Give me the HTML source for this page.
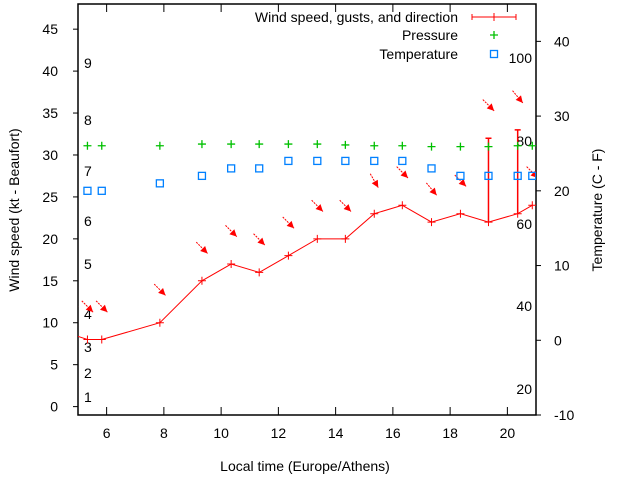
<!DOCTYPE html>
<html><head><meta charset="utf-8"><style>
body{margin:0;background:#fff}
svg{display:block;font-family:"Liberation Sans",sans-serif}
</style></head><body>
<svg id="chart" width="640" height="480" viewBox="0 0 640 480" xmlns="http://www.w3.org/2000/svg"></svg>
<script>
const times=[4.8,5.33,5.83,7.86,9.33,10.35,11.33,12.35,13.36,14.34,15.35,16.33,17.35,18.36,19.34,20.36,20.87];
const speeds=[8.6,8,8,10,15,17,16,18,20,20,23,24,22,23,22,23,24];
const gusts=[null,null,null,null,null,null,null,null,null,null,null,null,null,null,32,33,null];
const dirs=[315,315,315,315,315,315,315,315,315,315,330,315,320,315,315,320,315];
const pressure=[31.1,31.1,31.1,31.1,31.3,31.3,31.3,31.3,31.3,31.2,31.1,31.1,31.0,31.0,31.0,31.1,31.1];
const temps=[20,20,20,21,22,23,23,24,24,24,24,24,23,22,22,22,22];
const leftTicks=[0,5,10,15,20,25,30,35,40,45];
const rightTicks=[-10,0,10,20,30,40];
const xTicks=[6,8,10,12,14,16,18,20];
const beaufort=[["1",397],["2",373],["3",347],["4",314],["5",264],["6",221],["7",171],["8",120],["9",63]];
const fahr=[["20",389],["40",306],["60",224],["80",141],["100",58]];

const L=78,R=536,T=4,B=415;
const xS=t=>L+(t-5)/(21-5)*(R-L);
const yL=v=>B-(v+1)/(49)*(B-T);
const yR=v=>B-(v+10)/55*(B-T);
const svg=document.getElementById('chart');
const NS='http://www.w3.org/2000/svg';
function mk(tag,attrs,parent){const e=document.createElementNS(NS,tag);for(const k in attrs)e.setAttribute(k,attrs[k]);(parent||svg).appendChild(e);return e;}
function txt(s,x,y,anchor,extra){const e=mk('text',Object.assign({x:x,y:y,'font-size':14,fill:'#000','text-anchor':anchor||'middle'},extra||{}));e.textContent=s;return e;}

// defs clip
const defs=mk('defs',{});
const cp=mk('clipPath',{id:'clip'},defs);mk('rect',{x:L,y:T,width:R-L,height:B-T},cp);

// frame
const fr=mk('rect',{x:L,y:T,width:R-L,height:B-T,fill:'none',stroke:'#000','stroke-width':1.5});


leftTicks.forEach(v=>{const y=yL(v);
 mk('line',{x1:L-5,x2:L,y1:y,y2:y,stroke:'#000'});
 const t=txt(String(v),L-20,y+5,'end');
 
 });
rightTicks.forEach(v=>{const y=yR(v);
 mk('line',{x1:R,x2:R+5,y1:y,y2:y,stroke:'#000'});
 const t=txt(String(v),R+18,y+5,'start');
 
 });
xTicks.forEach(v=>{const x=xS(v);
 mk('line',{x1:x,x2:x,y1:B,y2:B-8,stroke:'#000'});
 mk('line',{x1:x,x2:x,y1:T,y2:T+8,stroke:'#000'});
 const t=txt(String(v),x,B+23,'middle');
 
 });
beaufort.forEach(([s,y])=>{const t=txt(s,84,y+5,'start');
 
 });
fahr.forEach(([s,y])=>{const t=txt(s,532,y+5,'end');
 
 });

let t1=txt('Wind speed (kt - Beaufort)',0,0,'middle',{transform:'translate(19,210) rotate(-90)'});

let t2=txt('Temperature (C - F)',0,0,'middle',{transform:'translate(602,210) rotate(-90)'});

let t3=txt('Local time (Europe/Athens)',305,471,'middle');


const g=mk('g',{'clip-path':'url(#clip)'});
// wind line
const pts=times.map((t,i)=>xS(t)+','+yL(speeds[i])).join(' ');
const pl=mk('polyline',{points:pts,fill:'none',stroke:'#f00','stroke-width':1},g);

times.forEach((t,i)=>{const x=xS(t),y=yL(speeds[i]);
 const p=mk('path',{d:`M${x-4},${y}H${x+4}M${x},${y-4}V${y+4}`,stroke:'#f00'},g);
 
 if(gusts[i]!=null){const yg=yL(gusts[i]);
  const e=mk('path',{d:`M${x},${y}V${yg}M${x-3},${yg}H${x+3}`,stroke:'#f00','stroke-width':1.5},g);
  }
 // arrow
 const top=Math.max(speeds[i],gusts[i]||0);
 const cx=x,cy=yL(top)-33;
 const a=(dirs[i]+180)*Math.PI/180; // direction wind goes to (compass)
 const dx=Math.sin(a),dy=-Math.cos(a),len=8;
 const x0=cx-dx*len,y0=cy-dy*len,x1=cx+dx*len,y1=cy+dy*len;
 const px=-dy,py=dx;
 const ar=mk('g',{},g);
 
 mk('line',{x1:x0,y1:y0,x2:x1,y2:y1,stroke:'#f00','stroke-width':1,'stroke-dasharray':'2,1'},ar);
 mk('polygon',{points:`${x1},${y1} ${x1-dx*7+px*3.5},${y1-dy*7+py*3.5} ${x1-dx*7-px*3.5},${y1-dy*7-py*3.5}`,fill:'#f00'},ar);
});
times.forEach((t,i)=>{if(i===0)return;const x=xS(t),y=yL(pressure[i]);
 const p=mk('path',{d:`M${x-4},${y}H${x+4}M${x},${y-4}V${y+4}`,stroke:'#00c000','stroke-width':1.3},g);
 
 const yt=yR(temps[i]);
 const s=mk('rect',{x:x-3.5,y:yt-3.5,width:7,height:7,fill:'none',stroke:'#0080ff','stroke-width':1.3},g);
 
});

// legend
const lg=mk('g',{});
txt('Wind speed, gusts, and direction',458,22,'end');
mk('path',{d:'M472,17H516M472,14V20M516,14V20M494,13V21',stroke:'#f00'},lg);
txt('Pressure',458,40,'end');
mk('path',{d:'M490,35H498M494,31V39',stroke:'#00c000','stroke-width':1.3},lg);
txt('Temperature',458,59,'end');
mk('rect',{x:490.5,y:50.5,width:7,height:7,fill:'none',stroke:'#0080ff','stroke-width':1.3},lg);
</script>
</body></html>
